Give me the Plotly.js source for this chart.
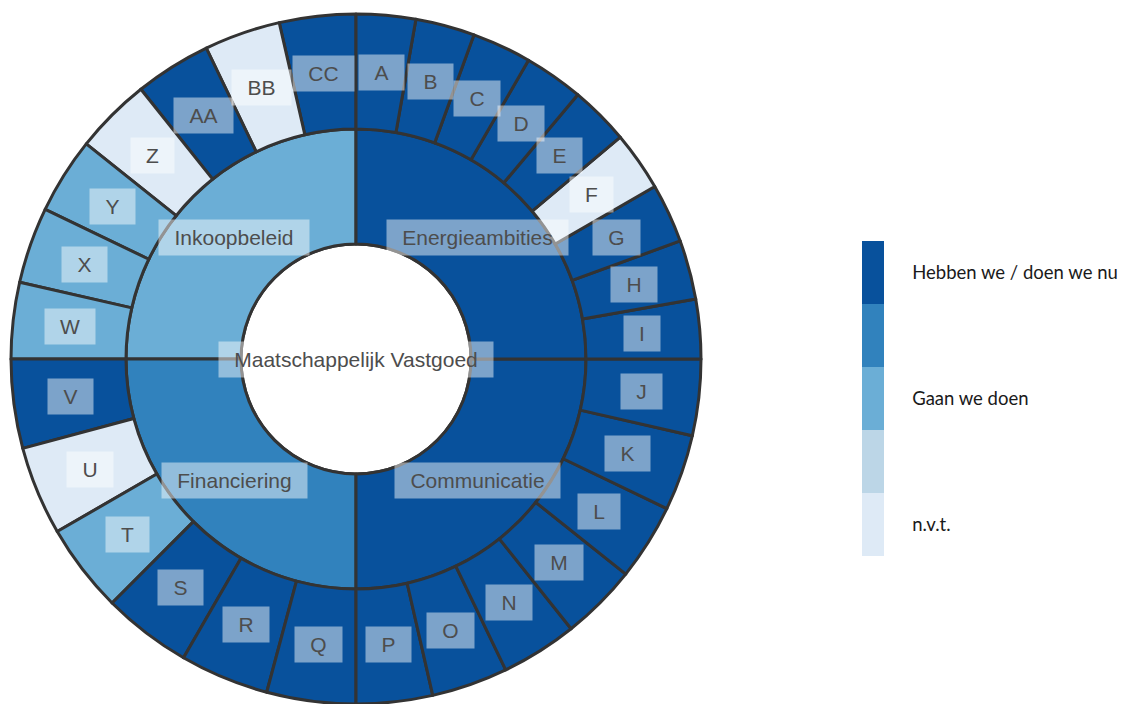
<!DOCTYPE html>
<html>
<head>
<meta charset="utf-8">
<script src="https://cdn.plot.ly/plotly-3.0.1.min.js"></script>
<style>html,body{margin:0;padding:0;background:#fff;}#chart{width:1122px;height:704px;}</style>
</head>
<body>
<div id="chart"></div>
<script>
// ---------- data ----------
const rootLabel = 'Maatschappelijk Vastgoed';
const categories = ['Energieambities', 'Communicatie', 'Financiering', 'Inkoopbeleid'];
const categoryStatus = [5, 5, 4, 3];
const leafLabels = ['A','B','C','D','E','F','G','H','I',
                    'J','K','L','M','N','O','P',
                    'Q','R','S','T','U','V',
                    'W','X','Y','Z','AA','BB','CC'];
const leafParents = ['Energieambities','Energieambities','Energieambities','Energieambities','Energieambities','Energieambities','Energieambities','Energieambities','Energieambities',
                     'Communicatie','Communicatie','Communicatie','Communicatie','Communicatie','Communicatie','Communicatie',
                     'Financiering','Financiering','Financiering','Financiering','Financiering','Financiering',
                     'Inkoopbeleid','Inkoopbeleid','Inkoopbeleid','Inkoopbeleid','Inkoopbeleid','Inkoopbeleid','Inkoopbeleid'];
// status: 5 = Hebben we / doen we nu, 3 = Gaan we doen, 1 = n.v.t.
const leafStatus = [5,5,5,5,5,1,5,5,5,
                    5,5,5,5,5,5,5,
                    5,5,5,3,1,5,
                    3,3,3,1,5,1,5];
// angular share of each segment (degrees)
const leafShare = [10,10,10,10,10,10,10,10,10,
                   12.86,12.86,12.86,12.86,12.86,12.86,12.86,
                   15,15,15,15,15,15,
                   12.86,12.86,12.86,12.86,12.86,12.86,12.86];
const statusCodes = [1, 2, 3, 4, 5];
const statusColors = ['#deeaf6', '#bcd6e7', '#6baed6', '#3182bd', '#08519c'];
const legendTickVals = [5, 3, 1];
const legendTickText = ['Hebben we / doen we nu', 'Gaan we doen', 'n.v.t.'];

// ---------- geometry ----------
const W = 1122, H = 704;
const M = {l: 10, r: 0, t: 14, b: 0};
const PW = W - M.l - M.r, PH = H - M.t - M.b;
const DIAM = 692;
const CX = M.l + DIAM / 2;
const R = Math.min(DIAM, PH) / 2;
const CY = M.t + PH / 2;
const colorOf = s => statusColors[statusCodes.indexOf(s)];

// ---------- sunburst arrays (drawn counter-clockwise from 12 o'clock, so reversed) ----------
const ids = [rootLabel], labels = [rootLabel], parents = [''], values = [0], colors = ['#ffffff'];
for (let c = categories.length - 1; c >= 0; c--) {
  ids.push(categories[c]); labels.push(categories[c]); parents.push(rootLabel); values.push(0);
  colors.push(colorOf(categoryStatus[c]));
  for (let i = leafLabels.length - 1; i >= 0; i--) {
    if (leafParents[i] !== categories[c]) continue;
    ids.push(leafLabels[i]); labels.push(leafLabels[i]); parents.push(categories[c]);
    values.push(leafShare[i]); colors.push(colorOf(leafStatus[i]));
  }
}

const sun = {
  type: 'sunburst', ids: ids, labels: labels, parents: parents, values: values,
  branchvalues: 'remainder', sort: false, rotation: 90,
  marker: {colors: colors, line: {color: '#333333', width: 3}},
  leaf: {opacity: 1},
  textinfo: 'none', hoverinfo: 'skip',
  domain: {x: [0, DIAM / PW], y: [0, 1]}
};

// legend colour bar
const cs = [];
statusColors.forEach((c, i) => { cs.push([i / 5, c]); cs.push([(i + 1) / 5, c]); });
const bar = {
  type: 'scatter', mode: 'markers', x: [0], y: [0], hoverinfo: 'skip', showlegend: false,
  marker: {
    color: [3], opacity: 0, colorscale: cs, cmin: 0.5, cmax: 5.5, showscale: true,
    colorbar: {
      x: (862 - M.l) / PW, xanchor: 'left', xpad: 0,
      y: 1 - ((241 + 556) / 2 - M.t) / PH, yanchor: 'middle', ypad: 0,
      len: 315, lenmode: 'pixels', thickness: 22, thicknessmode: 'pixels',
      outlinewidth: 0, tickvals: legendTickVals, ticktext: legendTickText,
      ticks: 'outside', ticklen: 25, tickcolor: 'rgba(0,0,0,0)',
      tickfont: {family: 'Lato, "Open Sans", sans-serif', size: 18.5, color: '#1a1a1a'}
    }
  }
};

// ---------- labels with translucent boxes ----------
const ctx = document.createElement('canvas').getContext('2d');
const FONT_SIZE = 21, FAMILY = '"Liberation Sans", Arial, sans-serif';
ctx.font = FONT_SIZE + 'px ' + FAMILY;
function box(text, px, py) {
  return {
    xref: 'paper', yref: 'paper', x: (px - M.l) / PW, y: 1 - (py - M.t) / PH,
    text: text, showarrow: false, xanchor: 'center', yanchor: 'middle',
    width: Math.ceil(ctx.measureText(text).width) + 20, height: 25, borderpad: 5,
    bgcolor: 'rgba(255,255,255,0.47)',
    font: {family: FAMILY, size: FONT_SIZE, color: '#4d4d4d'}
  };
}
const ring = R / 3;
const total = leafShare.reduce((a, b) => a + b, 0);
const ann = [box(rootLabel, CX, CY)];
let acc = 0;
categories.forEach((cat, c) => {
  const start = acc;
  leafLabels.forEach((lab, i) => {
    if (leafParents[i] !== cat) return;
    const a = (acc + leafShare[i] / 2) / total * 2 * Math.PI;
    ann.push(box(lab, CX + 2.5 * ring * Math.sin(a), CY - 2.5 * ring * Math.cos(a)));
    acc += leafShare[i];
  });
  const am = (start + acc) / 2 / total * 2 * Math.PI;
  ann.splice(1 + c, 0, box(cat, CX + 1.5 * ring * Math.sin(am), CY - 1.5 * ring * Math.cos(am)));
});

const layout = {
  width: W, height: H, margin: M, paper_bgcolor: '#ffffff', plot_bgcolor: '#ffffff',
  showlegend: false,
  xaxis: {visible: false, range: [10, 11], domain: [0.99, 1]},
  yaxis: {visible: false, range: [10, 11], domain: [0.99, 1]},
  annotations: ann
};
Plotly.newPlot('chart', [sun, bar], layout, {staticPlot: true, displayModeBar: false});
</script>
</body>
</html>
